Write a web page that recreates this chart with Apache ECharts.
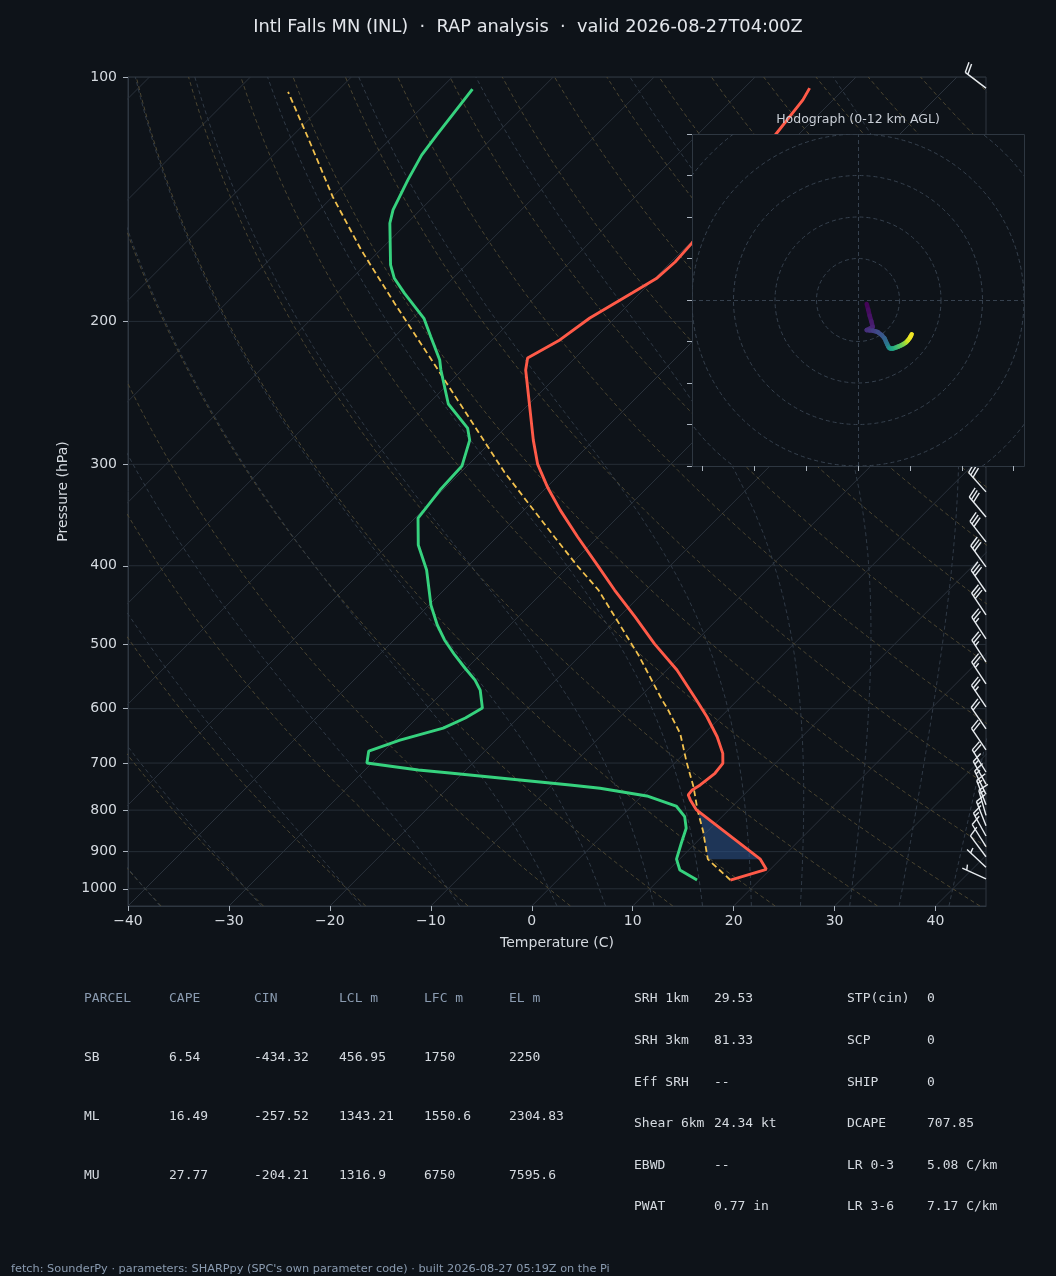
<!DOCTYPE html>
<html>
<head>
<meta charset="utf-8">
<title>Intl Falls MN (INL) - RAP analysis</title>
<script src="https://cdn.jsdelivr.net/npm/echarts@6.0.0/dist/echarts.min.js"></script>
<style>
  html, body { margin: 0; padding: 0; background: #0e1319; }
  #chart { width: 1056px; height: 1276px; }
</style>
</head>
<body>
<div id="chart"></div>
<script>
// ---- sounding (pressure hPa, temperature C) ----
const tempP = [975.4, 946.2, 919.4, 799.5, 777.2, 766.3, 755.5, 744.9, 720.6, 700.6,
  681.0, 649.7, 613.8, 585.3, 537.6, 499.3, 462.5, 428.5, 400.4, 368.7,
  341.6, 320.9, 299.8, 280.1, 257.2, 236.2, 229.6, 221.9, 210.8, 198.1,
  184.5, 176.8, 169.0, 160.3, 140.0, 117.3, 106.7, 103.2];
const tempC = [17.1, 19.6, 18.0, 6.8, 5.2, 4.5, 4.4, 4.7, 5.0, 4.8,
  3.8, 1.6, -1.4, -4.1, -9.0, -13.8, -18.4, -23.1, -27.1, -32.0,
  -36.4, -39.8, -43.2, -46.0, -49.3, -52.6, -53.7, -54.7, -53.3, -52.5,
  -50.8, -49.8, -49.6, -49.8, -51.0, -52.3, -53.0, -53.5];

const dewP = [975.4, 948.0, 919.4, 878.9, 842.3, 815.0, 790.7, 768.5, 751.9, 744.9,
  720.0, 714.0, 699.9, 676.6, 655.8, 633.9, 616.1, 598.9, 569.1, 553.2,
  534.6, 515.2, 493.7, 473.2, 447.2, 404.9, 377.2, 349.4, 322.7, 301.5,
  280.1, 270.7, 252.8, 229.6, 223.2, 208.9, 198.3, 184.7, 177.0, 170.4,
  151.4, 145.8, 133.9, 124.8, 117.9, 103.5];
const dewC = [13.8, 11.1, 9.7, 8.6, 7.6, 6.3, 4.4, 0.5, -4.9, -8.2,
  -21.3, -24.7, -30.5, -31.5, -29.5, -26.4, -25.2, -24.5, -26.5, -28.0,
  -30.2, -32.5, -35.0, -37.2, -39.8, -43.7, -47.0, -49.7, -50.3, -50.5,
  -52.3, -53.7, -58.0, -62.1, -63.2, -66.4, -68.9, -73.3, -75.8, -77.5,
  -81.7, -82.7, -84.2, -85.3, -85.8, -86.8];

// surface-based parcel path
const parcelP = [975.4, 919.4, 850.0, 799.5, 748.5, 700.0, 643.5, 600.0, 585.3, 515.2,
  500.0, 473.2, 428.5, 400.0, 368.7, 306.7, 227.5, 190.0, 163.3, 140.4, 118.5, 104.3];
const parcelC = [17.1, 12.8, 9.6, 6.9, 4.2, 1.2, -2.4, -6.1, -7.5, -14.3,
  -16.0, -19.1, -24.7, -29.2, -34.3, -45.7, -62.9, -73.3, -81.9, -90.0, -98.4, -104.8];

// CIN layer shaded between LCL and LFC
const cinBotP = 919.4;
const cinTopP = 799.5;

// winds: height km AGL, pressure hPa, u / v kt
const windZ = [0, 0.25, 0.5, 0.75, 1.0, 1.25, 1.5, 1.75, 2.0, 2.25, 2.5,
  3.0, 3.5, 4.0, 4.5, 5.0, 5.5, 6.0, 6.5, 7.0, 7.5, 8.0, 8.5, 9.0, 9.5, 10.0,
  10.5, 11.0, 11.5, 12.0, 16.0];
const windP = [972, 941, 913, 887, 861, 836, 812, 788, 765, 743, 718,
  674.5, 635.3, 597.0, 559.1, 525.4, 492.1, 459.8, 430.6, 401.2, 373.8, 348.3, 324.4, 302, 281, 261,
  242, 225, 208, 192.5, 103.2];
const windU = [4.2, 4.9, 5.6, 6.4, 7.1, 5.5, 4.2, 5.6, 7.2, 8.5, 9.6,
  11.4, 12.8, 13.5, 14.1, 14.6, 15.0, 15.5, 16.2, 16.9, 18.0, 19.0, 20.0, 21.1, 22.1, 23.0,
  23.6, 24.2, 25.1, 25.9, 14.5];
const windV = [-1.9, -4.6, -7.5, -10.2, -12.9, -13.9, -14.5, -14.6, -14.8, -15.1, -15.5,
  -16.9, -18.5, -20.1, -21.4, -22.5, -23.0, -23.3, -23.4, -23.3, -23.0, -22.6, -22.2, -21.7, -21.1, -20.5,
  -19.9, -19.3, -18.0, -16.5, -11.0];

// ticks
const tempTicks = [-40, -30, -20, -10, 0, 10, 20, 30, 40];
const presTicks = [100, 200, 300, 400, 500, 600, 700, 800, 900, 1000];
const hodoTicksX = [-75, -50, -25, 0, 25, 50, 75];
const hodoTicksY = [-80, -60, -40, -20, 0, 20, 40, 60, 80];
const hodoRings = [20, 40, 60, 80, 100];

// parameter tables
const parcelHeader = ['PARCEL', 'CAPE', 'CIN', 'LCL m', 'LFC m', 'EL m'];
const parcelRows = [
  ['SB', '6.54', '-434.32', '456.95', '1750', '2250'],
  ['ML', '16.49', '-257.52', '1343.21', '1550.6', '2304.83'],
  ['MU', '27.77', '-204.21', '1316.9', '6750', '7595.6']
];
const kinematicRows = [
  ['SRH 1km', '29.53'], ['SRH 3km', '81.33'], ['Eff SRH', '--'],
  ['Shear 6km', '24.34 kt'], ['EBWD', '--'], ['PWAT', '0.77 in']
];
const indexRows = [
  ['STP(cin)', '0'], ['SCP', '0'], ['SHIP', '0'],
  ['DCAPE', '707.85'], ['LR 0-3', '5.08 C/km'], ['LR 3-6', '7.17 C/km']
];

const titleText = 'Intl Falls MN (INL)  \u00b7  RAP analysis  \u00b7  valid 2026-08-27T04:00Z';
const footerText = 'fetch: SounderPy \u00b7 parameters: SHARPpy (SPC\'s own parameter code) \u00b7 built 2026-08-27 05:19Z on the Pi';

// ---- layout / style ----
const GRID_L = 128, GRID_T = 77, GRID_W = 858, GRID_H = 829;
const HODO_L = 692, HODO_T = 134, HODO_S = 332;
const T_MIN = -40, T_MAX = 45;
const LOG_TOP = Math.log10(100), LOG_BOT = Math.log10(1050);
const SKEW = (T_MAX - T_MIN) * GRID_H / GRID_W;   // isotherms at 45 deg on screen
const HODO_TOP_KM = 12;
const BARB_LEN = 26;

const BG = '#0e1319';
const SPINE = '#2e3741';
const TICK = '#aab3bd';
const TEXT = '#d5dae0';
const HEAD = '#8a9bb0';
const FONT = '"DejaVu Sans", sans-serif';
const MONO = '"DejaVu Sans Mono", monospace';

function skewX(t, p) {
  return t + SKEW * (LOG_BOT - Math.log10(p)) / (LOG_BOT - LOG_TOP);
}
function pt(t, p) {
  return [skewX(t, p), Math.log10(p)];
}

// ---- background lines ----
const bgLevels = [];
for (let k = 0; k <= 40; k++) bgLevels.push(Math.pow(10, LOG_BOT - k * (LOG_BOT - LOG_TOP) / 40));

const isobarLines = presTicks.map(p => [[T_MIN, Math.log10(p)], [T_MAX, Math.log10(p)]]);
const isothermLines = [];
for (let t = -120; t <= 40; t += 10) isothermLines.push([pt(t, 1050), pt(t, 100)]);

const dryLines = [];
for (let t0 = -40; t0 <= 240; t0 += 10) {
  dryLines.push(bgLevels.map(p => pt((t0 + 273.15) * Math.pow(p / 1000, 0.2857) - 273.15, p)));
}

function moistRate(p, tk) {
  const tc = tk - 273.15;
  const es = 6.112 * Math.exp(17.67 * tc / (tc + 243.5));
  const rs = 0.622 * es / (p - es);
  return (287.04 * tk + 2.501e6 * rs) / p / (1005.7 + 2.501e6 * 2.501e6 * rs * 0.622 / (287.04 * tk * tk));
}
function moistStep(tk, p0, p1) {
  const n = Math.max(4, Math.ceil(Math.abs(p1 - p0) / 4));
  const h = (p1 - p0) / n;
  let p = p0;
  for (let i = 0; i < n; i++) {
    const k1 = moistRate(p, tk);
    const k2 = moistRate(p + h / 2, tk + h * k1 / 2);
    const k3 = moistRate(p + h / 2, tk + h * k2 / 2);
    const k4 = moistRate(p + h, tk + h * k3);
    tk += h * (k1 + 2 * k2 + 2 * k3 + k4) / 6;
    p += h;
  }
  return tk;
}
const moistStarts = [-40, -30, -20, -10, 0, 5, 10, 15, 20, 25, 30, 35, 40, 45, 50];
const moistLines = moistStarts.map(t0 => {
  const t1000 = t0 + 273.15;
  let tk = t1000, pPrev = 1000;
  const below = [], above = [];
  bgLevels.forEach(p => {
    if (p > 1000) below.push(pt(moistStep(t1000, 1000, p) - 273.15, p));
  });
  bgLevels.forEach(p => {
    if (p <= 1000) {
      tk = moistStep(tk, pPrev, p);
      pPrev = p;
      above.push(pt(tk - 273.15, p));
    }
  });
  return below.concat(above);
});

function bgSeries(lines, color, dash) {
  return {
    type: 'lines', coordinateSystem: 'cartesian2d', xAxisIndex: 0, yAxisIndex: 0,
    polyline: true, silent: true, clip: true, z: 1,
    lineStyle: { color: color, width: 1, type: dash, opacity: 1 },
    data: lines.map(c => ({ coords: c }))
  };
}

function profileSeries(ps, ts, color, width, dash, z) {
  return {
    type: 'line', xAxisIndex: 0, yAxisIndex: 0, silent: true, clip: true, z: z,
    showSymbol: false, symbol: 'none',
    lineStyle: { color: color, width: width, type: dash },
    data: ps.map((p, i) => pt(ts[i], p))
  };
}

// ---- CIN shading ----
function renderCin(params, api) {
  const pts = [];
  tempP.forEach((p, i) => {
    if (p <= cinBotP && p >= cinTopP) pts.push(api.coord(pt(tempC[i], p)));
  });
  for (let i = parcelP.length - 1; i >= 0; i--) {
    const p = parcelP[i];
    if (p <= cinBotP && p >= cinTopP) pts.push(api.coord(pt(parcelC[i], p)));
  }
  return { type: 'polygon', shape: { points: pts }, style: { fill: 'rgba(44, 82, 138, 0.55)' } };
}

// ---- wind barbs ----
function renderBarb(params, api) {
  const base = api.coord([api.value(0), api.value(1)]);
  const u = api.value(2), v = api.value(3);
  const spd = Math.sqrt(u * u + v * v);
  const mag = 5 * Math.round(spd / 5);
  const style = { stroke: '#e8ecf0', lineWidth: 1.4, fill: null };
  if (mag <= 0) return { type: 'circle', shape: { cx: base[0], cy: base[1], r: 2 }, style: style };
  const dx = -u / spd, dy = -v / spd, px = -v / spd, py = u / spd;
  const at = (a, b) => [base[0] + a * dx + b * px, base[1] - (a * dy + b * py)];
  const seg = (p1, p2) => ({ type: 'line', shape: { x1: p1[0], y1: p1[1], x2: p2[0], y2: p2[1] }, style: style });
  const L = BARB_LEN, sp = 0.125 * L, fh = 0.4 * L, fw = 0.25 * L;
  const kids = [seg(at(0, 0), at(L, 0))];
  const nFlag = Math.floor(mag / 50);
  const rem = mag - 50 * nFlag;
  const nFull = Math.floor(rem / 10);
  const half = rem - 10 * nFull >= 5;
  let off = L;
  for (let i = 0; i < nFlag; i++) {
    if (off !== L) off += sp / 2;
    kids.push({ type: 'polygon', shape: { points: [at(off, 0), at(off - fw / 2, fh), at(off - fw, 0)] },
      style: { fill: '#e8ecf0', stroke: '#e8ecf0', lineWidth: 1 } });
    off -= fw + sp;
  }
  for (let i = 0; i < nFull; i++) {
    kids.push(seg(at(off, 0), at(off + fw / 2, fh)));
    off -= sp;
  }
  if (half) {
    if (off === L) off -= 1.5 * sp;
    kids.push(seg(at(off, 0), at(off + fw / 4, fh / 2)));
  }
  return { type: 'group', children: kids };
}

// ---- hodograph ----
const VIRIDIS = ['#440154', '#482475', '#414487', '#355f8d', '#2a788e', '#21918c',
  '#22a884', '#44bf70', '#7ad151', '#bddf26', '#fde725'];
function viridis(f) {
  f = Math.max(0, Math.min(1, f));
  const x = f * 10, i = Math.min(9, Math.floor(x)), t = x - i;
  const a = VIRIDIS[i], b = VIRIDIS[i + 1];
  const ch = (s, k) => parseInt(s.substr(1 + 2 * k, 2), 16);
  const c = [0, 1, 2].map(k => Math.round(ch(a, k) + (ch(b, k) - ch(a, k)) * t));
  return 'rgb(' + c.join(',') + ')';
}
const hodoSegs = [];
for (let i = 0; i + 1 < windZ.length && windZ[i + 1] <= HODO_TOP_KM; i++) {
  hodoSegs.push({
    coords: [[windU[i], windV[i]], [windU[i + 1], windV[i + 1]]],
    lineStyle: { color: viridis((windZ[i] + windZ[i + 1]) / 2 / HODO_TOP_KM) }
  });
}
function renderRing(params, api) {
  const c = api.coord([0, 0]);
  const r = api.size([api.value(2), 0])[0];
  return { type: 'circle', shape: { cx: c[0], cy: c[1], r: r },
    style: { fill: null, stroke: '#36414e', lineWidth: 1, lineDash: [4, 3] } };
}

// ---- text ----
function txt(text, x, y, font, fill, align, z) {
  return { type: 'text', silent: true, z: z || 10,
    style: { text: text, x: x, y: y, font: font, fill: fill,
      textAlign: align || 'left', align: align || 'left',
      textVerticalAlign: 'middle', verticalAlign: 'middle' } };
}
const graphics = [
  { type: 'rect', silent: true, z: 50,
    shape: { x: HODO_L + 0.5, y: HODO_T + 0.5, width: HODO_S, height: HODO_S },
    style: { fill: BG, stroke: SPINE, lineWidth: 1 } },
  txt('Hodograph (0-12 km AGL)', HODO_L + HODO_S / 2, 120, '12.5px ' + FONT, '#c9ced6', 'center', 60),
  txt(titleText, 528, 27, '17.8px ' + FONT, '#e3e6eb', 'center'),
  txt(footerText, 11, 1269, '11.3px ' + FONT, HEAD, 'left')
];
const parcelColX = [84, 169, 254, 339, 424, 509];
const parcelRowY = [999, 1058, 1117, 1176];
parcelHeader.forEach((h, j) => graphics.push(txt(h, parcelColX[j], parcelRowY[0], '13px ' + MONO, HEAD)));
parcelRows.forEach((row, i) => row.forEach((cell, j) =>
  graphics.push(txt(cell, parcelColX[j], parcelRowY[i + 1], '13px ' + MONO, TEXT))));
const sideRowY = [999, 1041, 1083, 1124, 1166, 1207];
kinematicRows.forEach((row, i) => {
  graphics.push(txt(row[0], 634, sideRowY[i], '13px ' + MONO, TEXT));
  graphics.push(txt(row[1], 714, sideRowY[i], '13px ' + MONO, TEXT));
});
indexRows.forEach((row, i) => {
  graphics.push(txt(row[0], 847, sideRowY[i], '13px ' + MONO, TEXT));
  graphics.push(txt(row[1], 927, sideRowY[i], '13px ' + MONO, TEXT));
});

const fmtTemp = v => (v < 0 ? '\u2212' + Math.abs(v) : String(v));
const presTickLogs = presTicks.map(p => Math.log10(p));

const option = {
  backgroundColor: BG,
  animation: false,
  grid: [
    { left: GRID_L, top: GRID_T, width: GRID_W, height: GRID_H, show: true,
      borderColor: SPINE, borderWidth: 1, backgroundColor: 'transparent' },
    { left: HODO_L, top: HODO_T, width: HODO_S, height: HODO_S, show: false }
  ],
  xAxis: [
    { gridIndex: 0, type: 'value', min: T_MIN, max: T_MAX, interval: 10,
      name: 'Temperature (C)', nameLocation: 'middle', nameGap: 30,
      nameTextStyle: { color: TEXT, fontSize: 14, fontFamily: FONT },
      axisLine: { show: true, onZero: false, lineStyle: { color: SPINE } },
      axisTick: { show: true, length: 5, customValues: tempTicks, lineStyle: { color: TICK } },
      axisLabel: { show: true, customValues: tempTicks, margin: 8, color: TEXT, fontSize: 14,
        fontFamily: FONT, formatter: fmtTemp },
      splitLine: { show: false } },
    { gridIndex: 1, type: 'value', min: -80, max: 80, z: 60,
      axisLine: { show: false, onZero: false },
      axisTick: { show: true, length: 5, customValues: hodoTicksX, lineStyle: { color: TICK } },
      axisLabel: { show: false },
      splitLine: { show: false } }
  ],
  yAxis: [
    { gridIndex: 0, type: 'value', min: LOG_TOP, max: LOG_BOT, inverse: true,
      name: 'Pressure (hPa)', nameLocation: 'middle', nameGap: 58,
      nameTextStyle: { color: TEXT, fontSize: 14, fontFamily: FONT },
      axisLine: { show: true, onZero: false, lineStyle: { color: SPINE } },
      axisTick: { show: true, length: 5, customValues: presTickLogs, lineStyle: { color: TICK } },
      axisLabel: { show: true, customValues: presTickLogs, margin: 11, color: TEXT, fontSize: 14,
        fontFamily: FONT, formatter: v => String(Math.round(Math.pow(10, v))) },
      splitLine: { show: false } },
    { gridIndex: 1, type: 'value', min: -80, max: 80, z: 60,
      axisLine: { show: false, onZero: false },
      axisTick: { show: true, length: 5, customValues: hodoTicksY, lineStyle: { color: TICK } },
      axisLabel: { show: false },
      splitLine: { show: false } }
  ],
  graphic: { elements: graphics },
  series: [
    bgSeries(isobarLines, '#262e37', 'solid'),
    bgSeries(isothermLines, '#2a323c', 'solid'),
    bgSeries(dryLines, '#4b4531', [4, 3]),
    bgSeries(moistLines, '#303a46', [4, 3]),
    { type: 'custom', xAxisIndex: 0, yAxisIndex: 0, renderItem: renderCin, data: [[0, 2.9]],
      silent: true, clip: true, z: 2 },
    profileSeries(parcelP, parcelC, '#f2c14e', 1.8, [6, 3.5], 3),
    profileSeries(dewP, dewC, '#36d27e', 2.9, 'solid', 4),
    profileSeries(tempP, tempC, '#ff5a48', 2.9, 'solid', 4),
    { type: 'custom', xAxisIndex: 0, yAxisIndex: 0, renderItem: renderBarb, silent: true, clip: false, z: 5,
      data: windP.map((p, i) => [T_MAX, Math.log10(p), windU[i], windV[i]]) },
    { type: 'custom', xAxisIndex: 1, yAxisIndex: 1, renderItem: renderRing, silent: true, clip: true, z: 55,
      data: hodoRings.map(r => [0, 0, r]) },
    { type: 'lines', coordinateSystem: 'cartesian2d', xAxisIndex: 1, yAxisIndex: 1, silent: true, z: 55,
      lineStyle: { color: '#36414e', width: 1, type: [4, 3], opacity: 1 },
      data: [{ coords: [[-80, 0], [80, 0]] }, { coords: [[0, -80], [0, 80]] }] },
    { type: 'lines', coordinateSystem: 'cartesian2d', xAxisIndex: 1, yAxisIndex: 1, silent: true, z: 58,
      lineStyle: { width: 4.5, opacity: 1, cap: 'round' },
      data: hodoSegs }
  ]
};

const chart = echarts.init(document.getElementById('chart'));
chart.setOption(option);
</script>
</body>
</html>
